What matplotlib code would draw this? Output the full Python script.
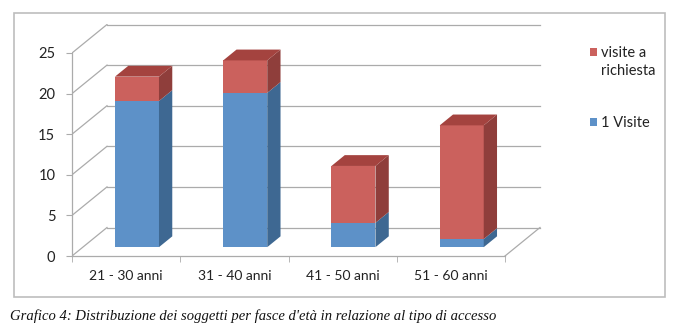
import numpy as np
import matplotlib
matplotlib.use('Agg')
import matplotlib.pyplot as plt
from matplotlib.patches import Polygon, Rectangle

# data
categories = ['21 - 30 anni', '31 - 40 anni', '41 - 50 anni', '51 - 60 anni']
una_visita = [18, 19, 3, 1]
visite_richiesta = [3, 4, 7, 14]
yticks = [0, 5, 10, 15, 20, 25]
legend_labels = ['visite a\nrichiesta', '1 Visite']
caption = "Grafico 4: Distribuzione dei soggetti per fasce d'età in relazione al tipo di accesso"

# colours (Excel 2007 style)
blue_front, blue_side, blue_top = '#5D91C8', '#3E6892', '#4A79AA'
red_front, red_side, red_top = '#CB615D', '#8F3E3B', '#A4433F'
grid_col = '#ABABAB'

W, H = 680, 336
fig = plt.figure(figsize=(W / 100, H / 100), dpi=100)
plt.rcParams['font.family'] = ['Lato', 'DejaVu Sans']

# axes in pixel box: front plane x 72..543, y 256 (0) .. 24 (top)
ax_l, ax_r, ax_b, ax_t = 72, 543, 256, 24
ax = fig.add_axes([ax_l / W, 1 - ax_b / H, (ax_r - ax_l) / W, (ax_b - ax_t) / H])
px_per_cat = 433 / 4
px_per_unit = 203 / 25
ax.set_xlim(-0.5, -0.5 + (ax_r - ax_l) / px_per_cat)
ax.set_ylim(0, (ax_b - ax_t) / px_per_unit)
ax.patch.set_visible(False)

# depth of the 3D box in data units
dx = 35 / px_per_cat
dy = 28.5 / px_per_unit
n = len(categories)
x = np.arange(n)

# back wall gridlines + left wall diagonals
for v in yticks:
    ax.plot([-0.5 + dx, n - 0.5 + dx], [v + dy, v + dy], color=grid_col, lw=0.9, zorder=1)
    ax.plot([-0.5, -0.5 + dx], [v, v + dy], color=grid_col, lw=0.9, zorder=1)
# floor right edge
ax.plot([n - 0.5, n - 0.5 + dx], [0, dy], color=grid_col, lw=0.9, zorder=1)

# axes spines / ticks
for s in ['top', 'right']:
    ax.spines[s].set_visible(False)
ax.spines['left'].set_bounds(0, 25)
ax.spines['bottom'].set_bounds(-0.5, n - 0.5)
for s in ['left', 'bottom']:
    ax.spines[s].set_color(grid_col)
    ax.spines[s].set_linewidth(0.9)
ax.set_yticks(yticks)
ax.set_yticklabels([str(v) for v in yticks])
ax.tick_params(axis='y', length=4, color=grid_col, labelsize=10.5, pad=8, labelcolor='#222222')
ax.set_xticks(x)
ax.set_xticklabels(categories)
ax.tick_params(axis='x', length=0, labelsize=10, pad=10, labelcolor='#222222')
ax.set_xticks(np.arange(n + 1) - 0.5, minor=True)
ax.tick_params(axis='x', which='minor', length=4, color=grid_col)

# bars: front face at 31% of depth, bar depth 38%
bw = 44 / px_per_cat
ox, oy = 0.31 * dx, 0.31 * dy
bdx, bdy = 0.38 * dx, 0.38 * dy

def bar3d(xc, bottom, height, front, side, top, draw_top):
    xl = xc + ox - bw / 2
    xr = xc + ox + bw / 2
    b = bottom + oy
    t = bottom + height + oy
    ax.bar(xc + ox, height, width=bw, bottom=b, color=front, lw=0, zorder=3)
    ax.add_patch(Polygon([(xr, b), (xr + bdx, b + bdy), (xr + bdx, t + bdy), (xr, t)],
                         closed=True, color=side, lw=0, zorder=3))
    if draw_top:
        ax.add_patch(Polygon([(xl, t), (xl + bdx, t + bdy), (xr + bdx, t + bdy), (xr, t)],
                             closed=True, color=top, lw=0, zorder=3))

for i in range(n):
    bar3d(x[i], 0, una_visita[i], blue_front, blue_side, blue_top, False)
    bar3d(x[i], una_visita[i], visite_richiesta[i], red_front, red_side, red_top, True)

# chart frame
fig.patches.append(Rectangle((14 / W, 1 - 297 / H), (665 - 14) / W, (297 - 13) / H,
                             transform=fig.transFigure, fill=False, ec='#BDBDBD', lw=1.2))

# legend
leg_cols = [red_front, blue_front]
leg_y = [52, 122]
for c, lab, yy in zip(leg_cols, legend_labels, leg_y):
    fig.patches.append(Rectangle((590 / W, 1 - (yy + 3.5) / H), 7 / W, 7 / H,
                                 transform=fig.transFigure, color=c, lw=0))
    fig.text(601 / W, 1 - (yy - 6) / H, lab, fontsize=10.5, color='#222222',
             va='top', ha='left', linespacing=1.35)

# caption
fig.text(10 / W, 1 - 316 / H, caption, fontsize=10.5, fontstyle='italic',
         family='Liberation Serif', va='center', ha='left', color='#111111')

fig.savefig('out.png', dpi=100, facecolor='white')
